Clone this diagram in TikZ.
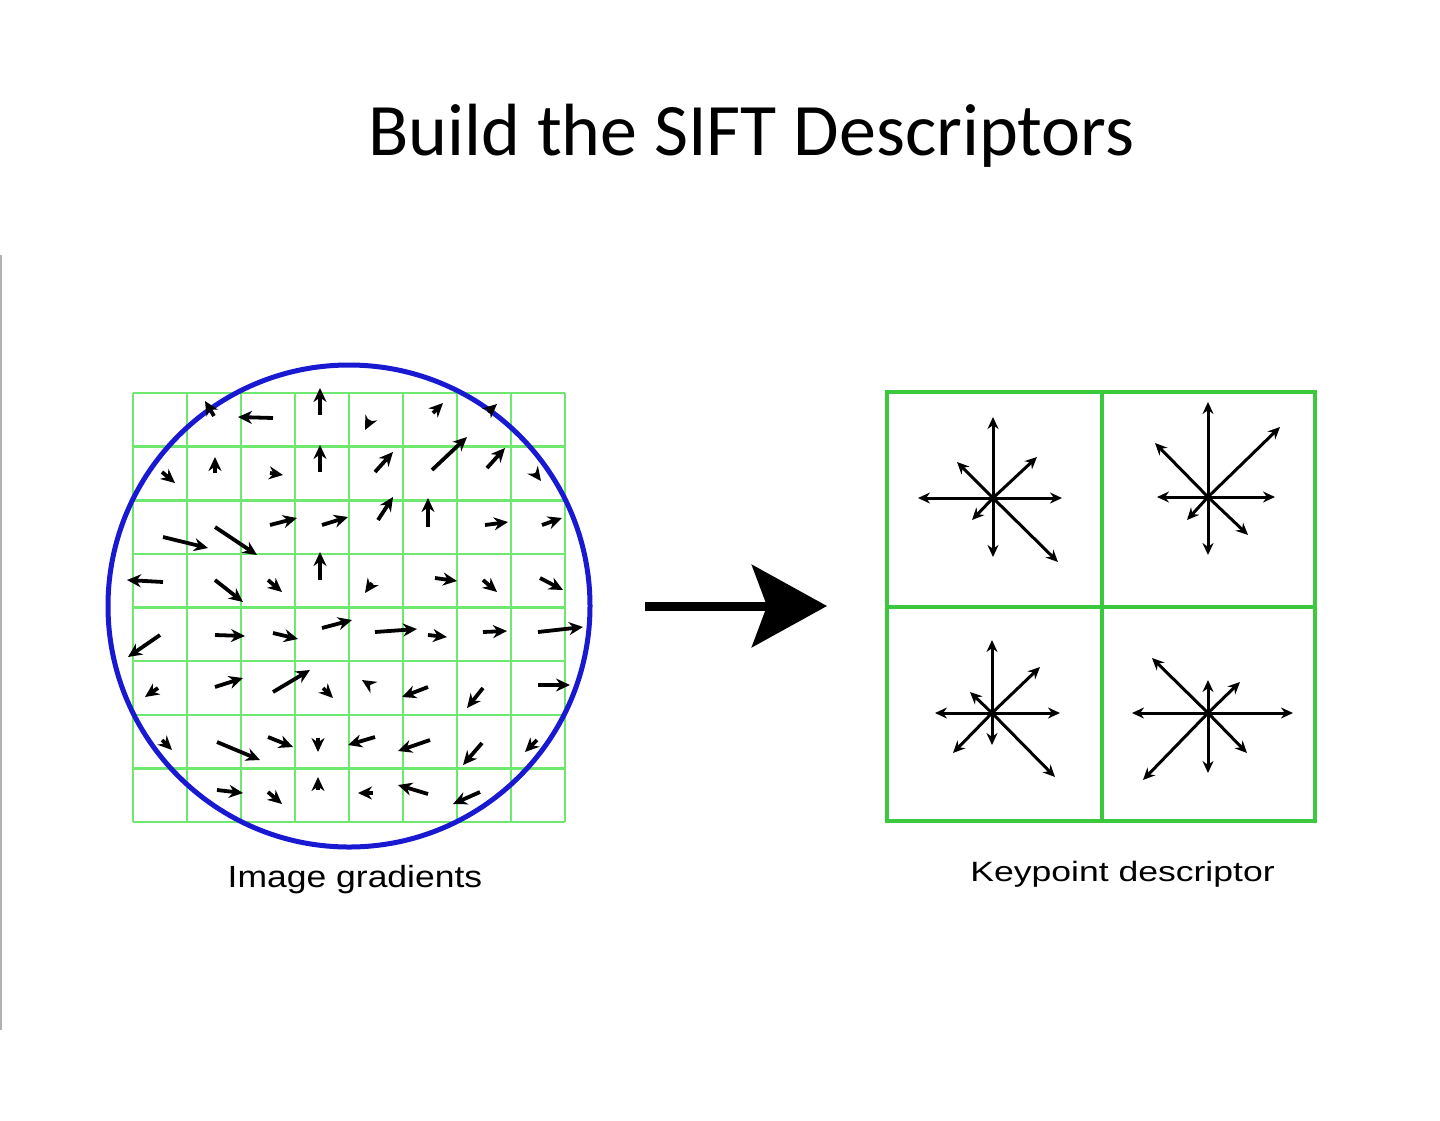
\documentclass[tikz,border=0pt]{standalone}
\usepackage{fontspec}
\usepackage{graphicx}
\setmainfont{Carlito}
\newfontfamily\labfont{Liberation Sans}
\usetikzlibrary{arrows.meta}
\definecolor{gridgreen}{RGB}{110,232,110}
\definecolor{boxgreen}{RGB}{60,200,60}
\definecolor{ringblue}{RGB}{25,25,210}
\begin{document}
\begin{tikzpicture}[x=0.5pt,y=-0.5pt,
  gridline/.style={gridgreen,line width=1.25pt},
  boxline/.style={boxgreen,line width=2pt},
  grad/.style={line width=1.9pt,-{Stealth[length=7pt,width=6.5pt]}},
  desc/.style={line width=1.5pt,-{Stealth[length=6pt,width=5.5pt]}},
  lab/.style={anchor=base,font=\labfont\fontsize{15.3}{18}\selectfont}]
\useasboundingbox (0,0) rectangle (1440,1120);
% left margin rule
\coordinate (rt) at (1,255);
\coordinate (rb) at (1,1030);
\draw[gray!60,line width=1pt] (rt) -- (rb);
% title
\node[anchor=base,font=\fontsize{37}{40}\selectfont] (title) at (751.5,155) {Build the SIFT Descriptors};
% gradient grid
\foreach \i in {0,...,8}{
  \draw[gridline] ({133+54*\i},393) -- ({133+54*\i},822);
  \draw[gridline] (133,{393+53.625*\i}) -- (565,{393+53.625*\i});
}
\draw[ringblue,line width=2.5pt] (349,606) circle (241);
\foreach \xa/\ya/\xb/\yb in {
214/416/205/401, 273/418/238/417, 320/415/320/388, 370/420/365/430, 433/413/443/403, 488/412/497/404,
162/472/175/483, 215/473/215/457, 270/473/283/475, 320/472/320/445, 375/472/393/452, 432/470/467/437, 487/468/505/448, 535/473/541/481,
163/537/208/548, 215/527/257/555, 270/525/297/518, 322/525/348/517, 378/520/393/497, 428/527/428/498, 485/525/508/522, 542/525/562/518,
163/582/127/580, 215/580/243/602, 268/580/282/592, 320/580/320/552, 372/583/365/593, 435/578/457/581, 483/580/497/592, 540/578/563/590,
160/635/128/657, 215/635/245/636, 273/633/298/639, 322/628/352/620, 375/632/417/629, 428/635/447/637, 483/632/507/631, 538/632/583/627,
158/688/145/697, 215/687/243/678, 273/692/310/670, 323/688/333/698, 370/685/362/680, 428/687/402/697, 483/688/467/708, 538/685/570/685,
162/740/172/750, 217/742/260/760, 268/737/293/747, 318/738/318/752, 375/737/348/745, 430/740/398/751, 482/743/463/765, 537/740/525/752,
217/790/243/793, 268/792/282/804, 318/790/318/777, 373/793/358/793, 428/794/398/785, 480/792/453/804}
  \draw[grad] (\xa,\ya) -- (\xb,\yb);
% big arrow
\coordinate (bs) at (645,606);
\coordinate (be) at (827,606);
\draw[line width=4.5pt,-{Stealth[length=37.5pt,width=41pt,inset=7.5pt]}] (bs) -- (be);
% descriptor box
\draw[boxline] (887,392) rectangle (1315,821);
\draw[boxline] (1102,392) -- (1102,821);
\draw[boxline] (887,607) -- (1315,607);
% descriptor stars
\foreach \cx/\cy/\ex/\ey in {
993/498/993/417, 993/498/993/557, 993/498/918/498, 993/498/1062/498, 993/498/957/462, 993/498/1037/457, 993/498/972/520, 993/498/1058/562,
1208/497/1208/402, 1208/497/1208/555, 1208/497/1157/497, 1208/497/1275/497, 1208/497/1155/443, 1208/497/1280/427, 1208/497/1187/520, 1208/497/1248/535,
992/713/992/640, 992/713/992/745, 992/713/935/713, 992/713/1060/713, 992/713/970/692, 992/713/1040/667, 992/713/953/753, 992/713/1055/777,
1208/713/1208/680, 1208/713/1208/773, 1208/713/1132/713, 1208/713/1293/713, 1208/713/1152/658, 1208/713/1240/682, 1208/713/1143/780, 1208/713/1247/753}
  \draw[desc] (\cx,\cy) -- (\ex,\ey);
% labels
\node[lab] (lg) at (355,887) {\scalebox{1.16}[1]{Image gradients}};
\node[lab,font=\labfont\fontsize{14}{17}\selectfont] (ld) at (1122.5,881) {\scalebox{1.27}[1]{Keypoint descriptor}};
\end{tikzpicture}
\end{document}
